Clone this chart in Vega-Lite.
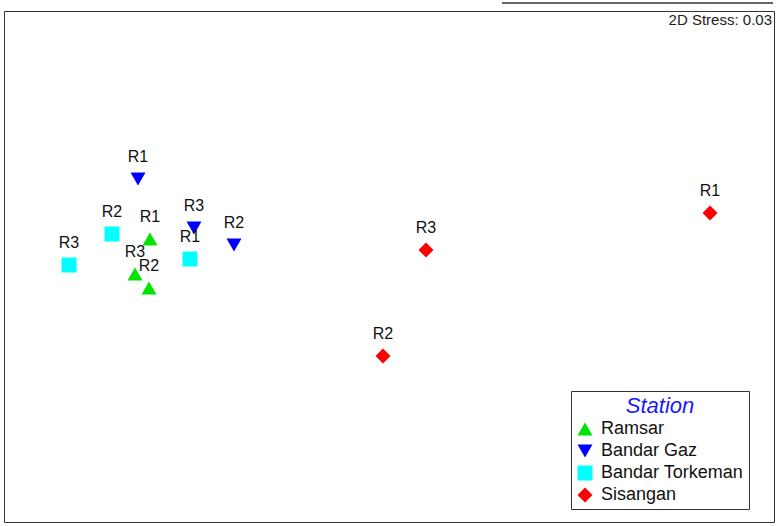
{
  "$schema": "https://vega.github.io/schema/vega-lite/v6.json",
  "autosize": {"type": "none"},
  "width": 770,
  "height": 511,
  "padding": {"left": 4, "top": 11, "right": 4, "bottom": 4},
  "background": "white",
  "config": {
    "view": {"stroke": "#333333", "strokeWidth": 1},
    "font": "Liberation Sans"
  },
  "layer": [
    {
      "data": {
        "values": [
          {"station": "Ramsar", "rep": "R1", "x": -2.39, "y": 0.275},
          {"station": "Ramsar", "rep": "R3", "x": -2.54, "y": -0.075},
          {"station": "Ramsar", "rep": "R2", "x": -2.40, "y": -0.215},
          {"station": "Bandar Gaz", "rep": "R1", "x": -2.51, "y": 0.875},
          {"station": "Bandar Gaz", "rep": "R3", "x": -1.95, "y": 0.385},
          {"station": "Bandar Gaz", "rep": "R2", "x": -1.55, "y": 0.215},
          {"station": "Bandar Torkeman", "rep": "R2", "x": -2.77, "y": 0.325},
          {"station": "Bandar Torkeman", "rep": "R1", "x": -1.99, "y": 0.075},
          {"station": "Bandar Torkeman", "rep": "R3", "x": -3.20, "y": 0.015},
          {"station": "Sisangan", "rep": "R1", "x": 3.21, "y": 0.535},
          {"station": "Sisangan", "rep": "R3", "x": 0.37, "y": 0.165},
          {"station": "Sisangan", "rep": "R2", "x": -0.06, "y": -0.895}
        ]
      },
      "encoding": {
        "x": {"field": "x", "type": "quantitative", "scale": {"domain": [-3.85, 3.85], "nice": false, "zero": false}, "axis": null},
        "y": {"field": "y", "type": "quantitative", "scale": {"domain": [-2.555, 2.555], "nice": false, "zero": false}, "axis": null}
      },
      "layer": [
        {
          "mark": {"type": "point", "filled": true, "opacity": 1},
          "encoding": {
            "color": {
              "field": "station", "type": "nominal",
              "scale": {"domain": ["Ramsar", "Bandar Gaz", "Bandar Torkeman", "Sisangan"], "range": ["#00e600", "#0000ff", "#00ffff", "#ff0000"]},
              "legend": {
                "title": "Station",
                "orient": "none",
                "legendX": 567,
                "legendY": 380,
                "strokeColor": "#333333",
                "padding": 5,
                "titleFontSize": 22,
                "titleFontStyle": "italic",
                "titleFontWeight": "normal",
                "titleColor": "#1a1aff",
                "titleAnchor": "middle",
                "titlePadding": 2,
                "titleFont": "Liberation Sans",
                "labelFont": "Liberation Sans",
                "labelFontSize": 18,
                "labelColor": "#111111",
                "symbolSize": 200,
                "rowPadding": 4,
                "labelOffset": 7
              }
            },
            "shape": {
              "field": "station", "type": "nominal",
              "scale": {"domain": ["Ramsar", "Bandar Gaz", "Bandar Torkeman", "Sisangan"], "range": ["triangle-up", "triangle-down", "square", "diamond"]},
              "legend": null
            },
            "size": {
              "field": "station", "type": "nominal",
              "scale": {"domain": ["Ramsar", "Bandar Gaz", "Bandar Torkeman", "Sisangan"], "range": [225, 225, 144, 170]},
              "legend": null
            }
          }
        },
        {
          "mark": {"type": "text", "dy": -22, "fontSize": 16, "color": "#111111", "font": "Liberation Sans"},
          "encoding": {"text": {"field": "rep"}}
        }
      ]
    },
    {
      "data": {"values": [{"label": "2D Stress: 0.03", "x": 3.83, "y": 2.465}]},
      "mark": {"type": "text", "align": "right", "baseline": "middle", "fontSize": 15, "color": "#222222", "font": "Liberation Sans Narrow, Liberation Sans"},
      "encoding": {
        "x": {"field": "x", "type": "quantitative"},
        "y": {"field": "y", "type": "quantitative"},
        "text": {"field": "label"}
      }
    },
    {
      "data": {"values": [{"x": 1.13, "x2": 3.84, "y": 2.635}]},
      "mark": {"type": "rule", "color": "#333333", "strokeWidth": 1.5, "clip": false},
      "encoding": {
        "x": {"field": "x", "type": "quantitative"},
        "x2": {"field": "x2"},
        "y": {"field": "y", "type": "quantitative"}
      }
    }
  ]
}
